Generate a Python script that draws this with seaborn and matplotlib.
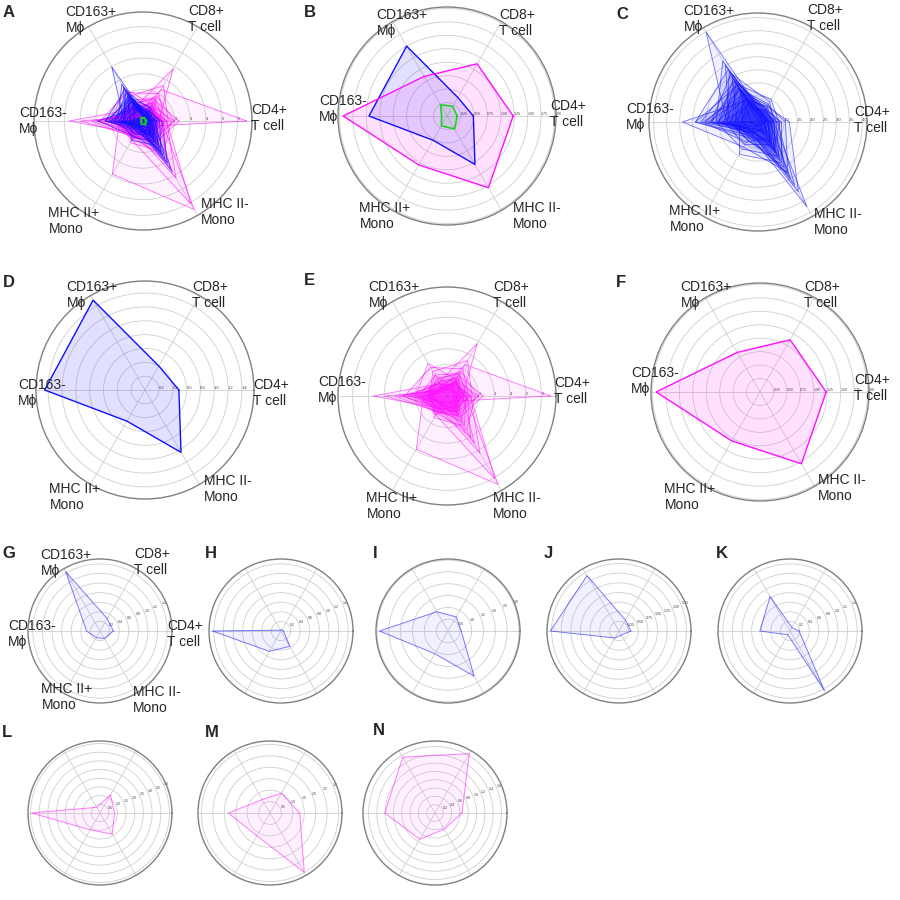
import numpy as np
import pandas as pd
import matplotlib
matplotlib.use("Agg")
import matplotlib.pyplot as plt
import seaborn as sns

sns.set_style("white")
plt.rcParams["font.family"] = ["Liberation Sans", "DejaVu Sans"]

# axis order: CD4+ T, CD8+ T, CD163+ Mphi, CD163- Mphi, MHC II+ Mono, MHC II- Mono
cells = ["CD4+\nT cell", "CD8+\nT cell", "CD163+\nMϕ", "CD163-\nMϕ",
         "MHC II+\nMono", "MHC II-\nMono"]

# single examples shown in G-N
sample_g = [0.28, 0.30, 1.43, 0.28, 0.16, 0.18]
sample_h = [0.05, 0.03, 0.02, 1.43, 0.49, 0.37]
sample_i = [0.56, 0.69, 0.94, 2.90, 1.11, 2.21]
sample_j = [0.31, 0.33, 1.66, 1.78, 0.21, 0.12]
sample_k = [0.19, 0.08, 0.83, 0.63, 0.09, 1.43]
sample_l = [0.84, 1.21, 0.38, 3.95, 1.12, 1.41]
sample_m = [1.30, 1.00, 0.68, 1.82, 1.15, 3.00]
sample_n = [0.65, 1.65, 1.55, 1.21, 0.73, 0.45]

# blue group (C)
blue_rows = [
    sample_g, sample_h, sample_i, sample_j, sample_k,
    [0.45, 0.35, 3.98, 1.20, 0.40, 0.90],
    [0.60, 0.50, 0.80, 0.90, 0.60, 3.75],
    [1.20, 0.70, 1.00, 0.80, 0.50, 3.10],
    [0.40, 0.30, 2.70, 1.60, 0.50, 0.80],
    [0.35, 0.45, 2.30, 2.40, 0.70, 1.10],
    [0.50, 0.60, 1.90, 1.50, 0.40, 1.30],
    [0.70, 0.80, 1.50, 1.20, 0.60, 1.60],
    [0.30, 0.20, 1.20, 2.10, 0.90, 0.70],
    [0.80, 1.00, 1.70, 1.00, 0.80, 2.00],
    [0.25, 0.15, 2.10, 1.80, 0.30, 0.60],
    [0.90, 0.55, 0.60, 0.70, 1.43, 1.80],
    [0.45, 0.40, 1.10, 1.90, 0.50, 2.50],
    [0.65, 0.35, 2.50, 1.10, 0.35, 1.20],
    [0.20, 0.25, 1.60, 2.40, 0.60, 0.90],
    [1.05, 0.75, 1.30, 0.90, 0.70, 2.30],
    [0.55, 0.60, 1.80, 1.30, 1.00, 1.00],
    [0.35, 0.30, 1.00, 1.60, 1.20, 1.50],
    [0.40, 0.50, 2.00, 0.80, 0.25, 0.50],
    [0.75, 0.45, 0.70, 1.40, 0.40, 2.80],
    [0.30, 0.40, 1.40, 2.00, 0.30, 0.40],
    [0.60, 0.90, 2.20, 1.20, 0.55, 1.40],
    [0.50, 0.25, 0.90, 1.10, 0.80, 1.70],
    [0.85, 0.60, 1.20, 0.60, 0.45, 1.20],
    [0.15, 0.20, 1.80, 2.20, 0.45, 0.30],
    [0.45, 0.55, 1.50, 1.50, 0.65, 0.95],
]

# magenta group (E)
magenta_rows = [
    sample_l, sample_m, sample_n,
    [6.60, 2.30, 0.60, 1.00, 0.50, 0.40],
    [1.20, 0.80, 0.60, 1.50, 3.90, 6.50],
    [1.50, 1.00, 0.50, 1.20, 1.40, 6.10],
    [0.80, 0.70, 0.90, 4.70, 0.90, 1.20],
    [1.00, 3.85, 1.00, 1.30, 0.60, 0.80],
    [0.90, 1.20, 2.40, 2.00, 0.80, 1.00],
    [2.30, 1.50, 0.80, 1.00, 0.70, 1.60],
    [1.40, 2.00, 2.10, 2.70, 1.20, 1.10],
    [0.60, 0.80, 0.70, 2.20, 1.00, 2.00],
    [1.80, 1.30, 1.10, 1.60, 1.30, 2.50],
    [1.10, 0.90, 0.50, 3.00, 0.80, 1.30],
    [0.70, 0.60, 0.90, 2.50, 0.60, 0.90],
    [1.30, 1.60, 1.30, 1.20, 1.10, 1.80],
    [2.00, 1.10, 0.60, 0.80, 0.90, 1.20],
    [0.50, 0.70, 1.50, 1.80, 1.40, 0.70],
    [1.00, 1.40, 0.80, 2.00, 0.50, 3.50],
    [0.90, 0.50, 0.40, 1.40, 1.00, 1.00],
    [1.60, 2.60, 1.80, 1.10, 0.70, 0.90],
    [0.40, 0.60, 0.50, 3.30, 1.20, 1.50],
    [1.20, 1.00, 0.70, 0.90, 1.60, 2.20],
    [0.80, 1.20, 1.00, 2.40, 0.40, 0.60],
    [1.50, 0.90, 0.30, 1.70, 0.90, 4.20],
    [0.60, 0.40, 0.60, 1.30, 0.60, 1.10],
    [2.00, 1.80, 1.20, 1.50, 1.20, 1.40],
    [1.10, 0.80, 0.90, 2.80, 1.00, 0.80],
]

# green group
green_rows = [
    [0.20, 0.22, 0.25, 0.10, 0.21, 0.28],
    [0.15, 0.18, 0.20, 0.15, 0.25, 0.22],
    [0.25, 0.25, 0.28, 0.08, 0.18, 0.33],
]

# group means (B, D, F)
blue_mean = [0.49, 0.40, 1.50, 1.45, 0.52, 1.04]
magenta_mean = [1.23, 1.12, 0.85, 1.93, 1.05, 1.54]
green_mean = [0.19, 0.21, 0.24, 0.10, 0.21, 0.28]

BLUE = "#1010ff"
MAGENTA = "#ff10ff"
GREEN = "#20d020"

angles = np.deg2rad([0, 60, 120, 180, 240, 300])

fig = plt.figure(figsize=(9, 9), dpi=100)


def make_ax(cx, cy, R):
    return fig.add_axes([(cx - R) / 900, 1 - (cy + R) / 900, 2 * R / 900, 2 * R / 900],
                        projection="polar")


def draw_group(ax, rows, color, lw, la, fa):
    recs = []
    for k, row in enumerate(rows):
        for th, r in zip(list(angles) + [2 * np.pi], list(row) + [row[0]]):
            recs.append({"theta": th, "r": r, "sample": k})
    df = pd.DataFrame(recs)
    for row in rows:
        ax.fill(angles, row, color=color, alpha=fa, lw=0)
    sns.lineplot(data=df, x="theta", y="r", units="sample", estimator=None, sort=False,
                 color=color, lw=lw, alpha=la, ax=ax)
    ax.set_xlabel("")
    ax.set_ylabel("")


def style(ax, vmax, step, rlabel, fs):
    rmax = vmax * 1.05
    ax.set_ylim(0, rmax)
    ticks = np.arange(step, rmax, step)
    ax.set_yticks(ticks)
    fmt = "{:.2f}" if step == 0.25 else ("{:.0f}" if step >= 1 else "{:.1f}")
    ax.set_yticklabels([fmt.format(t) for t in ticks], fontsize=fs, color="#444444")
    ax.set_rlabel_position(rlabel)
    ax.set_xticks(angles)
    ax.set_xticklabels([])
    ax.grid(color="#cfcfcf", lw=0.6)
    ax.spines["polar"].set_color("#808080")
    ax.spines["polar"].set_linewidth(1.0)
    ax.tick_params(pad=0)


# label offsets (px from circle centre) per panel
offs_a = [(126, 3), (63, 102), (-52, 101), (-100, 0), (-69, -100), (82, -91)]
offs_b = [(121, 2), (70, 93), (-45, 93), (-104, 7), (-62, -100), (90, -100)]
offs_c = [(114, 2), (67, 104), (-49, 103), (-108, 5), (-63, -97), (80, -100)]
offs_d = [(126, -3), (65, 95), (-53, 95), (-103, -3), (-70, -107), (83, -99)]
offs_e = [(125, 5), (64, 101), (-53, 101), (-105, 6), (-55, -110), (70, -110)]
offs_f = [(112, 4), (62, 97), (-54, 97), (-105, 11), (-70, -105), (82, -96)]
offs_g = [(85, -3), (52, 69), (-34, 68), (-68, -3), (-33, -66), (57, -69)]


def put_labels(cx, cy, offs):
    for lab, (dx, dy) in zip(cells, offs):
        fig.text((cx + dx) / 900, 1 - (cy - dy) / 900, lab, ha="center", va="center",
                 multialignment="left", fontsize=10)


def letter(x, y, s):
    fig.text(x / 900, 1 - y / 900, s, ha="left", va="top", fontsize=12, fontweight="bold")


R = 109
# A
ax = make_ax(143, 121, R)
draw_group(ax, magenta_rows, MAGENTA, 0.6, 0.65, 0.05)
draw_group(ax, blue_rows, BLUE, 0.6, 0.65, 0.05)
draw_group(ax, green_rows, GREEN, 0.8, 0.9, 0.1)
style(ax, max(max(r) for r in magenta_rows + blue_rows), 1, 0, 3)
put_labels(143, 121, offs_a)
letter(3, 5, "A")

# B
ax = make_ax(447, 116, R)
draw_group(ax, [blue_mean], BLUE, 1.0, 1.0, 0.12)
draw_group(ax, [magenta_mean], MAGENTA, 1.0, 1.0, 0.12)
draw_group(ax, [green_mean], GREEN, 1.2, 1.0, 0.12)
style(ax, max(blue_mean + magenta_mean + green_mean), 0.25, 0, 2.6)
put_labels(447, 116, offs_b)
letter(304, 5, "B")

# C
ax = make_ax(758, 122, R)
draw_group(ax, blue_rows, BLUE, 0.6, 0.6, 0.06)
style(ax, max(max(r) for r in blue_rows), 0.5, 0, 3)
put_labels(758, 122, offs_c)
letter(616, 7, "C")

# D
ax = make_ax(145, 390, R)
draw_group(ax, [blue_mean], BLUE, 1.0, 1.0, 0.12)
style(ax, max(blue_mean), 0.2, 0, 3)
put_labels(145, 390, offs_d)
letter(3, 275, "D")

# E
ax = make_ax(447, 396, R)
draw_group(ax, magenta_rows, MAGENTA, 0.6, 0.6, 0.06)
style(ax, max(max(r) for r in magenta_rows), 1, 0, 3)
put_labels(447, 396, offs_e)
letter(304, 273, "E")

# F
ax = make_ax(760, 392, R)
draw_group(ax, [magenta_mean], MAGENTA, 1.0, 1.0, 0.12)
style(ax, max(magenta_mean), 0.25, 0, 2.6)
put_labels(760, 392, offs_f)
letter(616, 275, "F")

# small panels
r_s = 72
small = [
    ("G", sample_g, BLUE, 0.2, (100, 631), (2, 546)),
    ("H", sample_h, BLUE, 0.2, (281, 631), (205, 546)),
    ("I", sample_i, BLUE, 0.5, (448, 631), (373, 546)),
    ("J", sample_j, BLUE, 0.25, (619, 631), (544, 546)),
    ("K", sample_k, BLUE, 0.2, (790, 631), (716, 546)),
    ("L", sample_l, MAGENTA, 0.5, (100, 813), (2, 725)),
    ("M", sample_m, MAGENTA, 0.5, (270, 813), (205, 725)),
    ("N", sample_n, MAGENTA, 0.2, (435, 813), (373, 723)),
]
for name, vals, col, step, (cx, cy), (lx, ly) in small:
    ax = make_ax(cx, cy, r_s)
    draw_group(ax, [vals], col, 0.7, 0.55, 0.06)
    style(ax, max(vals), step, 22.5, 2.6)
    letter(lx, ly, name)
    if name == "G":
        put_labels(cx, cy, offs_g)

fig.savefig("out.png", dpi=100)
